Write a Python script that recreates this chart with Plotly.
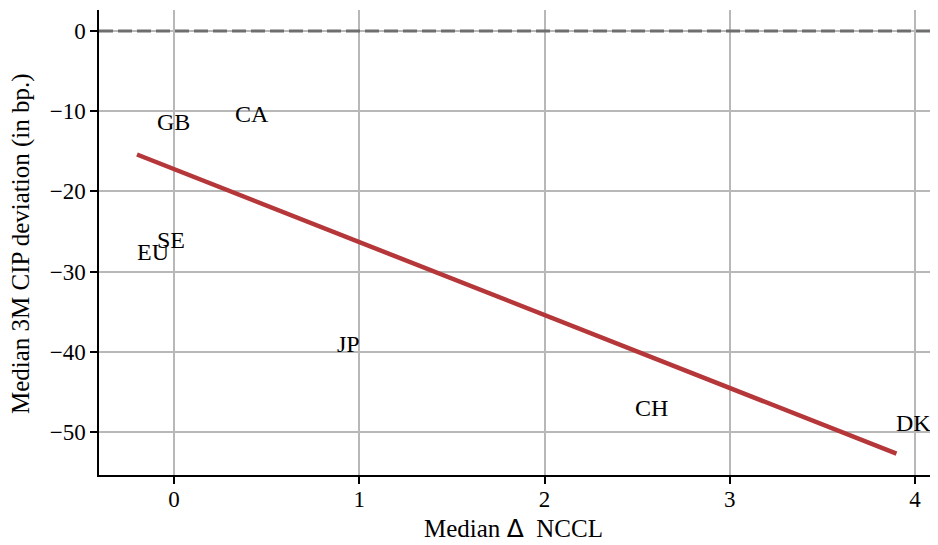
import plotly.graph_objects as go

# Country labels and their (median ΔNCCL, median 3M CIP deviation) positions
countries = ["GB", "CA", "SE", "EU", "JP", "CH", "DK"]
nccl = [-0.09, 0.33, -0.09, -0.20, 0.88, 2.49, 3.90]
cip_dev = [-11.3, -10.4, -26.1, -27.5, -39.0, -47.0, -48.9]

# Fitted regression line (end points)
fit_x = [-0.20, 3.90]
fit_y = [-15.4, -52.7]

x_ticks = [0, 1, 2, 3, 4]
y_ticks = [0, -10, -20, -30, -40, -50]

x_title = 'Median <span style="font-family:DejaVu Sans">Δ</span>  NCCL'
y_title = "Median 3M CIP deviation (in bp.)"

FONT = "Liberation Serif"
TICK_FS = 23
TITLE_FS = 25
LABEL_FS = 24

fig = go.Figure()

fig.add_trace(go.Scatter(
    x=fit_x, y=fit_y, mode="lines",
    line=dict(color="#b5373a", width=4.5),
    showlegend=False, hoverinfo="skip",
))

annotations = []
for c, xv, yv in zip(countries, nccl, cip_dev):
    annotations.append(dict(
        x=xv, y=yv, xref="x", yref="y", text=c, showarrow=False,
        xanchor="left", yanchor="middle", borderpad=0, borderwidth=0,
        font=dict(family=FONT, size=LABEL_FS, color="black"),
    ))

# axis titles
annotations.append(dict(
    x=0.4964, y=-0.114, xref="paper", yref="paper", text=x_title, showarrow=False,
    xanchor="center", yanchor="middle", font=dict(family=FONT, size=TITLE_FS, color="black"),
))
annotations.append(dict(
    x=-0.0925, y=0.498, xref="paper", yref="paper", text=y_title, showarrow=False,
    xanchor="center", yanchor="middle", textangle=-90,
    font=dict(family=FONT, size=TITLE_FS, color="black"),
))

fig.add_shape(type="line", xref="paper", x0=0, x1=1, yref="y", y0=0, y1=0,
              line=dict(color="#6e6e6e", width=3, dash="14px,5px"), layer="above")

# page body has an 8px margin, so the figure is sized/offset to compensate
fig.update_layout(
    width=930, height=537,
    margin=dict(l=91, r=3, t=2, b=70),
    paper_bgcolor="white", plot_bgcolor="white",
    font=dict(family=FONT, size=TICK_FS, color="black"),
    annotations=annotations,
    showlegend=False,
)

fig.update_xaxes(
    range=[-0.405, 4.108], tickvals=x_ticks, ticktext=[str(v) for v in x_ticks],
    showgrid=True, gridcolor="#b8b8b8", gridwidth=1.5, zeroline=False,
    showline=True, linecolor="black", linewidth=1.5, mirror=False,
    ticks="outside", ticklen=7, tickwidth=1.5, tickcolor="black",
    tickfont=dict(family=FONT, size=TICK_FS), automargin=False,
    ticklabelstandoff=-4,
)
fig.update_yaxes(
    range=[-55.36, 2.62], tickvals=y_ticks,
    showgrid=True, gridcolor="#b8b8b8", gridwidth=1.5, zeroline=False,
    showline=True, linecolor="black", linewidth=1.5, mirror=False,
    ticks="outside", ticklen=7, tickwidth=1.5, tickcolor="black",
    tickfont=dict(family=FONT, size=TICK_FS), automargin=False,
)

fig.write_html("out.html")
